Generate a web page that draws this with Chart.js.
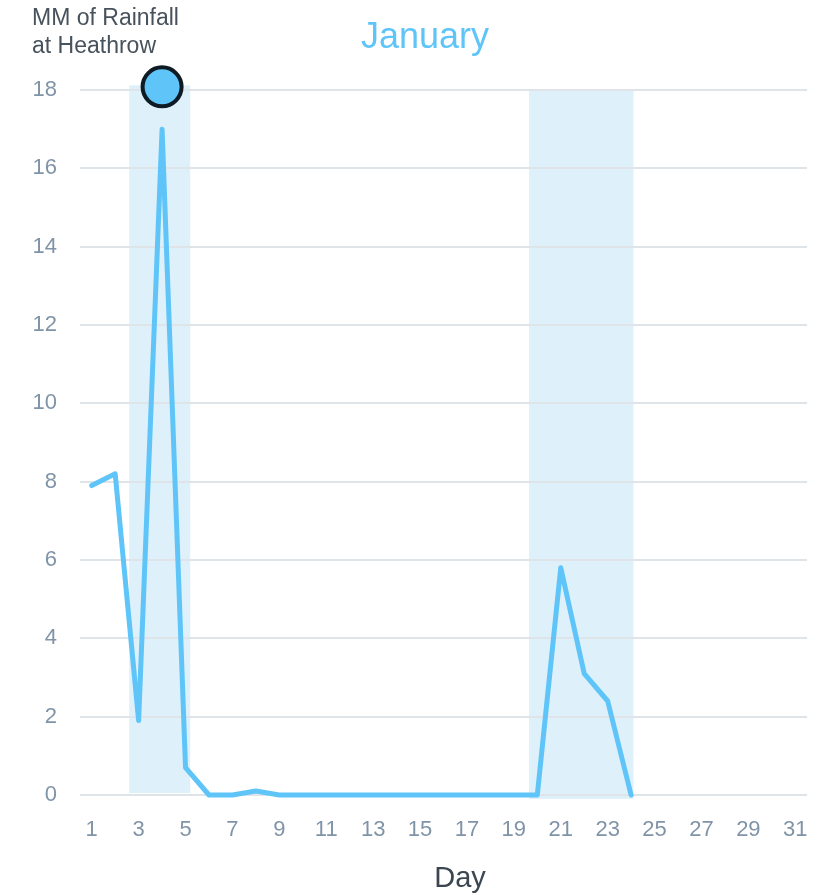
<!DOCTYPE html>
<html lang="en">
<head>
<meta charset="UTF-8" />
<title>January rainfall at Heathrow</title>
<script src="https://cdn.jsdelivr.net/npm/chart.js"></script>
<style>
    body { margin: 0; background: #fff; }
    .grafico-container { width: 820px; height: 895px; }
</style>
</head>
<body>
<div class="grafico-container">
    <canvas id="grafico" width="820" height="895"></canvas>
</div>
<script>
    // days of January
    const days = [1,2,3,4,5,6,7,8,9,10,11,12,13,14,15,16,17,18,19,20,21,22,23,24,25,26,27,28,29,30,31];
    // mm of rain per day (no data after the 24th)
    const rainfall = [7.9, 8.2, 1.9, 17, 0.7, 0, 0, 0.1, 0, 0, 0, 0, 0, 0, 0, 0, 0, 0, 0, 0,
                      5.8, 3.1, 2.4, 0, null, null, null, null, null, null, null];
    // the highlighted point sits on top of the axis above day 4
    const highlight = [null, null, null, 18.08, null, null, null, null, null, null, null, null, null, null, null, null,
                       null, null, null, null, null, null, null, null, null, null, null, null, null, null, null];
    const yTicks = [0, 2, 4, 6, 8, 10, 12, 14, 16, 18];

    // shaded periods, in days and mm
    const bandStart = [2.6, 19.65];
    const bandEnd = [5.2, 24.1];
    const bandTop = [18.12, 18];
    const bandBottom = [0.05, -0.1];

    const corLinha = '#5fc5f9';
    const corFaixa = 'rgba(204, 232, 248, 0.65)';

    const faixas = {
        id: 'faixas',
        beforeDraw(chart) {
            const { ctx, scales: { x, y } } = chart;
            ctx.save();
            ctx.fillStyle = corFaixa;
            for (let i = 0; i < bandStart.length; i++) {
                const x0 = x.getPixelForValue(bandStart[i] - 1);
                const x1 = x.getPixelForValue(bandEnd[i] - 1);
                const y0 = y.getPixelForValue(bandTop[i]);
                const y1 = y.getPixelForValue(bandBottom[i]);
                ctx.fillRect(x0, y0, x1 - x0, y1 - y0);
            }
            ctx.restore();
        }
    };

    const textos = {
        id: 'textos',
        afterDraw(chart) {
            const ctx = chart.ctx;
            ctx.save();
            ctx.textBaseline = 'alphabetic';
            ctx.font = '36px "Liberation Sans", Arial, sans-serif';
            ctx.fillStyle = corLinha;
            ctx.textAlign = 'center';
            ctx.fillText('January', 425, 48);

            ctx.font = '23px "Liberation Sans", Arial, sans-serif';
            ctx.fillStyle = '#47525c';
            ctx.textAlign = 'left';
            ctx.fillText('MM of Rainfall', 32, 25);
            ctx.fillText('at Heathrow', 32, 53);

            ctx.font = '29px "Liberation Sans", Arial, sans-serif';
            ctx.fillStyle = '#3b4651';
            ctx.textAlign = 'center';
            ctx.fillText('Day', 460, 887);
            ctx.restore();
        }
    };

    const ctx = document.getElementById('grafico').getContext('2d');
    const chart = new Chart(ctx, {
        type: 'line',
        data: {
            labels: days,
            datasets: [
                {
                    label: 'Rainfall',
                    data: rainfall,
                    borderColor: corLinha,
                    borderWidth: 5,
                    borderCapStyle: 'round',
                    borderJoinStyle: 'round',
                    pointRadius: 0,
                    tension: 0,
                    spanGaps: false,
                    clip: false
                },
                {
                    label: 'Highlight',
                    data: highlight,
                    showLine: false,
                    pointRadius: 19.5,
                    pointBorderWidth: 4,
                    pointBackgroundColor: corLinha,
                    pointBorderColor: '#0f1b24',
                    clip: false
                }
            ]
        },
        options: {
            responsive: false,
            animation: false,
            layout: { autoPadding: false, padding: { top: 90, right: 13, left: 0, bottom: 0 } },
            plugins: {
                legend: { display: false },
                tooltip: { enabled: false }
            },
            scales: {
                x: {
                    offset: true,
                    grid: { display: false },
                    border: { display: false },
                    afterFit: s => {
                        s.height = 100;
                        s.paddingLeft = 0;
                        s.paddingRight = 0;
                    },
                    ticks: {
                        autoSkip: false,
                        maxRotation: 0,
                        padding: 14,
                        color: '#8094a8',
                        font: { size: 22, family: '"Liberation Sans", Arial, sans-serif' },
                        callback: (v, i) => (days[i] % 2 === 1 ? days[i] : '')
                    }
                },
                y: {
                    min: 0,
                    max: 18,
                    afterFit: s => { s.width = 80; },
                    afterBuildTicks: s => { s.ticks = yTicks.map(v => ({ value: v })); },
                    grid: { color: '#dfe4e9', lineWidth: 2, drawTicks: false },
                    border: { display: false },
                    ticks: {
                        padding: 23,
                        color: '#8094a8',
                        font: { size: 22, family: '"Liberation Sans", Arial, sans-serif' }
                    }
                }
            }
        },
        plugins: [faixas, textos]
    });
</script>
</body>
</html>
